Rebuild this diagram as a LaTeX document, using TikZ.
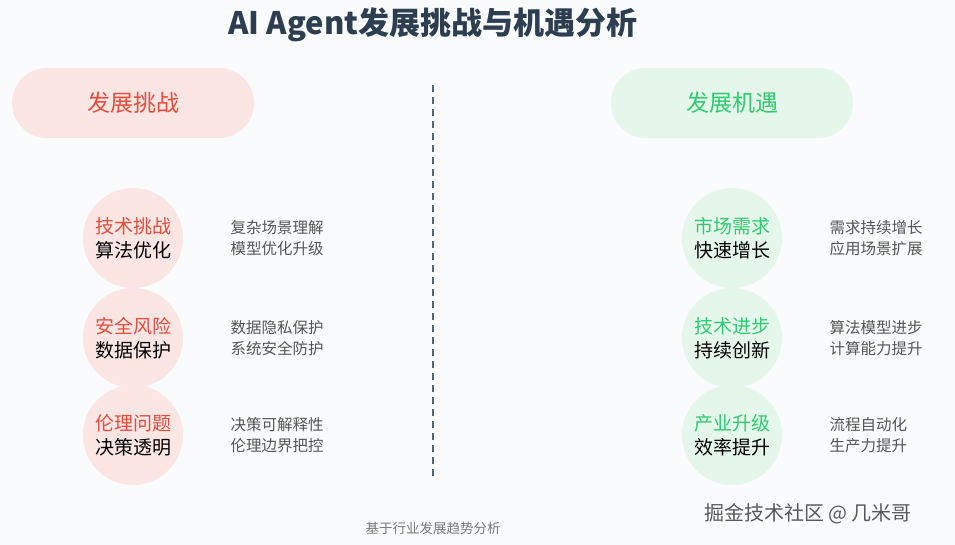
\documentclass[tikz,border=0pt]{standalone}
\usepackage{fontspec}
\setmainfont{Noto Sans CJK SC}
\definecolor{bg}{HTML}{FAFBFC}
\definecolor{red1}{HTML}{E74C3C}
\definecolor{grn1}{HTML}{2ECC71}
\definecolor{pinkf}{HTML}{FBE6E4}
\definecolor{greenf}{HTML}{E5F6EA}
\definecolor{title}{HTML}{2C3E50}
\definecolor{gry}{HTML}{555555}
\begin{document}
\begin{tikzpicture}[x=1pt,y=-1pt,
 pill/.style={rounded corners=35pt,minimum width=242pt,minimum height=70pt,font=\fontsize{23}{26}\selectfont},
 circ/.style={circle,minimum size=100pt,inner sep=0pt,align=center,font=\fontsize{19}{24}\selectfont},
 desc/.style={anchor=west,align=left,text=gry,font=\fontsize{15.5}{21}\selectfont}]
\fill[bg] (0,0) rectangle (955,545);
\node[text=title,font=\bfseries\fontsize{31}{34}\selectfont] (t) at (433,25) {AI Agent发展挑战与机遇分析};
\node[pill,fill=pinkf,text=red1] (lp) at (133,103) {发展挑战};
\node[pill,fill=greenf,text=grn1] (rp) at (732,103) {发展机遇};
\coordinate (d1) at (433,85); \coordinate (d2) at (433,477);
\draw[line width=2.5pt,title!80,dash pattern=on 7pt off 5pt] (d1) -- (d2);
\foreach \n/\y/\a/\b/\c/\d in {1/238/技术挑战/算法优化/复杂场景理解/模型优化升级,2/338/安全风险/数据保护/数据隐私保护/系统安全防护,3/435/伦理问题/决策透明/决策可解释性/伦理边界把控}{
 \node[circ,fill=pinkf] (l\n) at (133,\y) {\textcolor{red1}{\a}\\\b};
 \node[desc] (ld\n) at (227,\y) {\c\\\d};
}
\foreach \n/\y/\a/\b/\c/\d in {1/238/市场需求/快速增长/需求持续增长/应用场景扩展,2/338/技术进步/持续创新/算法模型进步/计算能力提升,3/435/产业升级/效率提升/流程自动化/生产力提升}{
 \node[circ,fill=greenf] (r\n) at (732,\y) {\textcolor{grn1}{\a}\\\b};
 \node[desc] (rd\n) at (826,\y) {\c\\\d};
}
\node[text=gry!80,font=\fontsize{13.5}{16}\selectfont] (f) at (433,528) {基于行业发展趋势分析};
\node[text=gray!70!black,font=\fontsize{20}{22}\selectfont] (w) at (808,514) {掘金技术社区 @ 几米哥};
\end{tikzpicture}
\end{document}
